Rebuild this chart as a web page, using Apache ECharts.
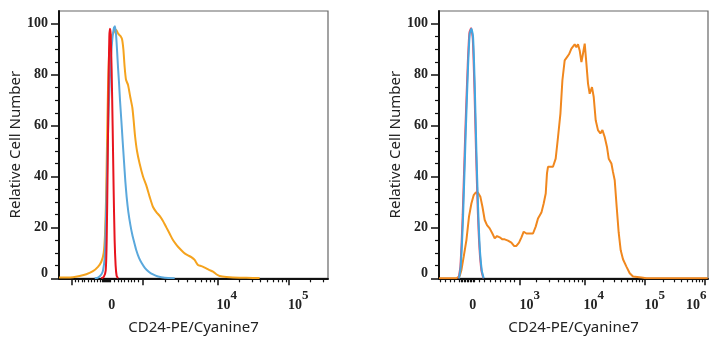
<!DOCTYPE html>
<html><head><meta charset="utf-8">
<script src="https://cdn.jsdelivr.net/npm/echarts@6/dist/echarts.min.js"></script>
<style>html,body{margin:0;padding:0;background:#fff}#c{width:719px;height:350px}</style>
</head><body><div id="c"></div>
<script>
// x values are positions on the biexponential display axis (1 unit = one decade on the log part)
const leftOrangeX = [1.781,1.883,1.977,2.070,2.163,2.256,2.326,2.373,2.406,2.424,2.438,2.452,2.466,2.480,2.499,2.522,2.545,2.569,2.587,2.611,2.639,2.662,2.681,2.699,2.718,2.746,2.779,2.807,2.825,2.844,2.872,2.909,2.956,3.002,3.049,3.096,3.142,3.189,3.235,3.282,3.329,3.375,3.413,3.445,3.492,3.538,3.585,3.632,3.678,3.725,3.772,3.818,3.879,3.935,3.981,4.028,4.121,4.214,4.401,4.587];
const leftOrangeY = [0.3,0.3,0.4,0.9,1.6,2.8,4.5,6.5,10,17,30,52,74,87,93,95.5,96.5,97.6,97.3,96,95.2,94,90,83,78,76,71,67,62,56,50,45,40,36.5,32,28,26,24.5,22.5,20,17.5,15,13.5,12.4,11,9.8,9,8.3,7.2,5.2,4.8,4.2,3.3,2.6,1.6,0.9,0.5,0.3,0.2,0.1];
const leftBlueX = [2.280,2.326,2.373,2.396,2.420,2.434,2.448,2.462,2.480,2.503,2.527,2.550,2.564,2.578,2.592,2.606,2.620,2.634,2.653,2.671,2.690,2.709,2.727,2.751,2.779,2.807,2.834,2.862,2.900,2.937,2.984,3.040,3.096,3.166,3.259,3.399];
const leftBlueY = [0,0.3,1.5,3,8,20,35,52,70,85,94,98.5,99,96,90,83,77,70,62,54,46,38,32,26,21,17,14,11,8,6,4,2.5,1.5,0.7,0.2,0];
const leftRedX = [2.373,2.406,2.434,2.448,2.462,2.476,2.485,2.494,2.503,2.517,2.531,2.545,2.559,2.573,2.587,2.606];
const leftRedY = [0,0.5,3,15,45,80,95,98,96,82,60,35,15,5,1,0];

const rightOrangeX = [1.563,1.853,1.908,1.937,1.975,2.020,2.063,2.103,2.142,2.175,2.213,2.253,2.287,2.325,2.363,2.408,2.453,2.492,2.530,2.575,2.620,2.658,2.713,2.770,2.813,2.853,2.897,2.937,2.975,3.020,3.075,3.130,3.175,3.213,3.270,3.308,3.342,3.363,3.380,3.463,3.508,3.547,3.587,3.620,3.658,3.697,3.730,3.770,3.797,3.825,3.853,3.880,3.908,3.937,3.963,3.992,4.020,4.047,4.075,4.113,4.142,4.175,4.213,4.253,4.287,4.325,4.363,4.392,4.437,4.463,4.492,4.525,4.558,4.592,4.630,4.687,4.742,4.797,4.937,5.020,6.042];
const rightOrangeY = [0,0,0.9,3.3,8.5,15,24.2,29.4,32.7,33.7,33.6,32,28.1,22.9,20.9,19.6,17.6,15.7,16.6,16.1,15.3,15.3,14.8,14,12.7,12.7,14,16.1,18.3,17.6,17.6,17.6,20.3,23.5,25.8,29.4,33.3,41.2,43.8,43.8,47,55.5,64.7,77.8,85.6,86.9,88,90.2,89.5,91.9,90.8,91.9,89.5,84.9,88.2,92.2,84.3,76.5,72.5,75.1,71.2,62.1,58.2,56.9,58.2,55.5,51.6,47,45.1,41.8,38.5,28,18,11,7.5,4.6,2,0.7,0.3,0,0];
const rightBlueX = [1.897,1.925,1.964,2.008,2.047,2.075,2.103,2.131,2.158,2.186,2.214,2.242,2.275,2.308];
const rightBlueY = [0,4.6,24.2,56.9,83,96,98,94.8,76.5,50.3,28.1,12.4,3.3,0];
const rightRedX = [1.890,1.920,1.958,2.002,2.042,2.070,2.098,2.126,2.153,2.181,2.209,2.237,2.270,2.303];
const rightRedY = [0,4.8,25,58,84,96.5,98.2,94,75,49,27,12,3,0];

// axis ticks and labels
const leftMajorTicks = [1.962, 2.947, 4, 5];
const leftMinorTicks = [2.010,2.056,2.102,2.140,2.186,2.234,2.270,2.318,2.354,2.392,2.406,2.420,2.434,2.448,2.462,2.476,2.490,2.503,2.559,2.606,2.653,2.699,2.746,2.794,2.839,2.887,3.264,3.449,3.580,3.683,3.766,3.836,3.898,3.951,4.301,4.477,4.602,4.699,4.778,4.845,4.903,4.954,5.301,5.477];
const leftTickLabels = ['0','10^4','10^5'];
const leftLabelPos = [2.517, 4.126, 5.126];
const rightMajorTicks = [2.91, 4, 5, 6];
const rightMinorTicks = [1.592,1.675,1.753,1.825,1.908,1.933,1.958,1.983,2.008,2.033,2.058,2.083,2.108,2.133,2.158,2.242,2.325,2.420,2.508,2.587,2.675,2.753,2.825,3.192,3.408,3.547,3.650,3.742,3.817,3.883,3.950,4.301,4.477,4.602,4.699,4.778,4.845,4.903,4.954,5.301,5.477,5.602,5.699,5.778,5.845,5.903,5.954];
const rightTickLabels = ['0','10^3','10^4','10^5','10^6'];
const rightLabelPos = [2.125, 3.075, 4.142, 5.158, 5.850];
const yMajorTicks = [0,20,40,60,80,100];
const yMinorTicks = [5,10,15,25,30,35,45,50,55,65,70,75,85,90,95];
const xTitle = 'CD24-PE/Cyanine7';
const yTitle = 'Relative Cell Number';

const zip = (xs, ys) => xs.map((x, i) => [x, ys[i]]);
const serif = 'Liberation Serif';
const labelFont = {fontFamily: serif, fontWeight: 'bold', fontSize: 14, color: '#222'};
const richStyles = {
  b: Object.assign({}, labelFont, {lineHeight: 14, verticalAlign: 'bottom'}),
  s: Object.assign({}, labelFont, {fontSize: 13, lineHeight: 13, padding: [0,0,10,0], verticalAlign: 'bottom'}),
  z: Object.assign({}, labelFont, {lineHeight: 14, padding: [0,0,10,0]})
};
function xFormatter(pos, labels) {
  return function (v) {
    let i = pos.findIndex(p => Math.abs(p - v) < 1e-6);
    if (i < 0) return '';
    const t = labels[i];
    if (t.indexOf('^') >= 0) { const [b, e] = t.split('^'); return '{b|' + b + '}{s|' + e + '}'; }
    return '{b|' + t + '}';
  };
}
const axisColor = '#111';
function xAxes(g, min, max, major, minor, labelPos, labels) {
  return [
    {gridIndex: g, type: 'value', position: 'bottom', min, max,
     axisLine: {show: true, onZero: false, lineStyle: {color: axisColor, width: 2}},
     axisTick: {show: true, customValues: major, length: 7, lineStyle: {color: axisColor, width: 1.5}},
     axisLabel: {show: false}, splitLine: {show: false},
     name: xTitle, nameLocation: 'middle', nameGap: 42,
     nameTextStyle: {fontFamily: 'Noto Sans', fontSize: 15, color: '#222'}},
    {gridIndex: g, type: 'value', position: 'bottom', min, max,
     axisLine: {show: false}, axisTick: {show: true, customValues: minor, length: 4, lineStyle: {color: axisColor, width: 1.2}},
     axisLabel: {show: false}, splitLine: {show: false}},
    {gridIndex: g, type: 'value', position: 'bottom', min, max,
     axisLine: {show: false}, axisTick: {show: false}, splitLine: {show: false},
     axisLabel: Object.assign({show: true, customValues: labelPos, formatter: xFormatter(labelPos, labels), rich: richStyles,
                 verticalAlign: 'bottom', margin: 34}, labelFont)}
  ];
}
function yAxes(g) {
  return [
    {gridIndex: g, type: 'value', position: 'left', min: 0, max: 105,
     axisLine: {show: true, onZero: false, lineStyle: {color: axisColor, width: 2}},
     axisTick: {show: true, customValues: yMajorTicks, length: 8, lineStyle: {color: axisColor, width: 1.5}},
     axisLabel: Object.assign({show: true, customValues: yMajorTicks, margin: 11, rich: richStyles,
                 formatter: v => v === 0 ? '{z|0}' : '{b|' + v + '}'}, labelFont),
     splitLine: {show: false},
     name: yTitle, nameLocation: 'middle', nameGap: 31,
     nameTextStyle: {fontFamily: 'Noto Sans', fontSize: 15, color: '#222'}},
    {gridIndex: g, type: 'value', position: 'left', min: 0, max: 105,
     axisLine: {show: false}, axisTick: {show: true, customValues: yMinorTicks, length: 4, lineStyle: {color: axisColor, width: 1.2}},
     axisLabel: {show: false}, splitLine: {show: false}}
  ];
}
function line(xi, yi, data, color, smooth) {
  return {type: 'line', xAxisIndex: xi, yAxisIndex: yi, data, showSymbol: false, smooth: smooth,
          lineStyle: {color, width: 2}, itemStyle: {color}, animation: false, silent: true};
}
const chart = echarts.init(document.getElementById('c'), null, {renderer: 'canvas'});
chart.setOption({
  backgroundColor: '#fff',
  animation: false,
  grid: [
    {left: 59, top: 11, width: 269, height: 267.3, show: true, borderColor: '#666', borderWidth: 1.2},
    {left: 439, top: 11, width: 269, height: 267.3, show: true, borderColor: '#666', borderWidth: 1.2}
  ],
  xAxis: [].concat(
    xAxes(0, 1.781, 5.543, leftMajorTicks, leftMinorTicks, leftLabelPos, leftTickLabels),
    xAxes(1, 1.563, 6.047, rightMajorTicks, rightMinorTicks, rightLabelPos, rightTickLabels)
  ),
  yAxis: [].concat(yAxes(0), yAxes(1)),
  series: [
    line(0, 0, zip(leftOrangeX, leftOrangeY), '#F5A31E', 0.2),
    line(0, 0, zip(leftBlueX, leftBlueY), '#5AA8DC', 0.2),
    line(0, 0, zip(leftRedX, leftRedY), '#E8141E', 0.2),
    line(3, 2, zip(rightOrangeX, rightOrangeY), '#F0871E', false),
    line(3, 2, zip(rightRedX, rightRedY), '#E8506A', 0.2),
    line(3, 2, zip(rightBlueX, rightBlueY), '#42A6E0', 0.2)
  ]
});
</script></body></html>
